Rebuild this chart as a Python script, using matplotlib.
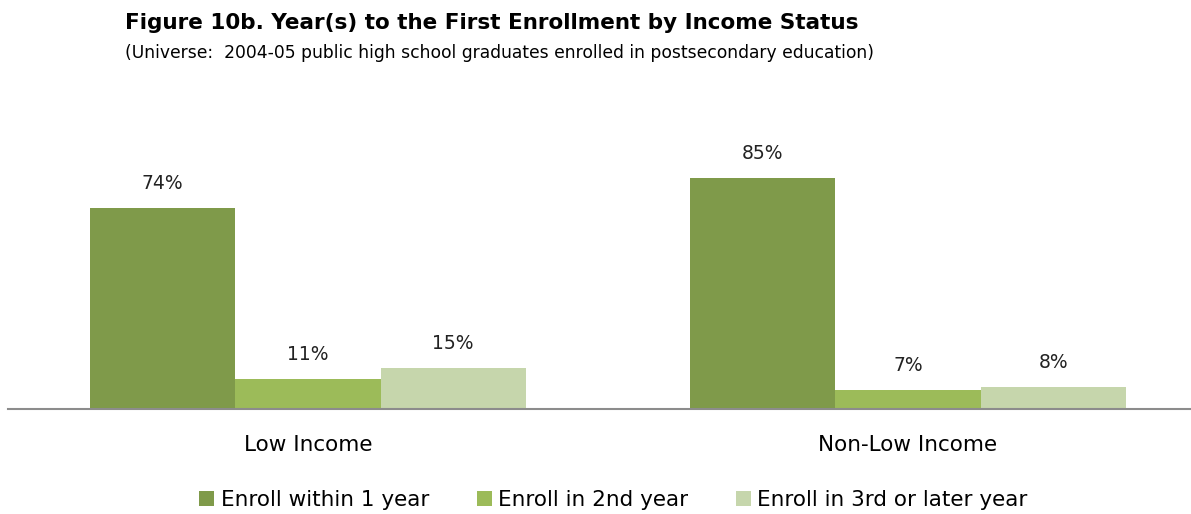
import matplotlib.pyplot as plt
import numpy as np

groups = ['Low Income', 'Non-Low Income']
series = ['Enroll within 1 year', 'Enroll in 2nd year', 'Enroll in 3rd or later year']
within_1yr = [74, 85]
second_yr = [11, 7]
third_plus = [15, 8]
colors = ['#7F9A4A', '#9CBB59', '#C6D6AC']

plt.rcParams['font.family'] = ['DejaVu Sans']

fig = plt.figure(figsize=(11.91, 5.14), dpi=100)
ax = fig.add_axes([8 / 1191, 105 / 514, 1200 / 1191, 272 / 514])

x = np.arange(len(groups))
w = 0.242
for i, (vals, lab) in enumerate(zip([within_1yr, second_yr, third_plus], series)):
    pos = x + (i - 1) * w
    ax.bar(pos, vals, width=w, color=colors[i], label=lab)
    for p, v in zip(pos, vals):
        ax.text(p, v + 5.5, f'{v}%', ha='center', va='bottom', fontsize=13.5, color='#222222')

ax.set_xlim(-0.5, 1.5)
ax.set_ylim(0, 100)
for s in ['top', 'right', 'left']:
    ax.spines[s].set_visible(False)
ax.spines['bottom'].set_color('#8c8c8c')
ax.spines['bottom'].set_linewidth(1.5)
ax.set_yticks([])
ax.set_xticks(x)
ax.set_xticklabels(groups, fontsize=15.5)
ax.tick_params(axis='x', length=0, pad=19)

fig.text(125 / 1191, 1 - 23 / 514, 'Figure 10b. Year(s) to the First Enrollment by Income Status',
         fontsize=15.5, fontweight='bold', va='center', ha='left')
fig.text(125 / 1191, 1 - 53 / 514,
         '(Universe:  2004-05 public high school graduates enrolled in postsecondary education)',
         fontsize=12.3, va='center', ha='left')

fig.legend(loc='center', bbox_to_anchor=(0.515, 1 - 500 / 514), ncol=3, frameon=False,
           fontsize=15.5, handlelength=0.7, handleheight=0.7, handletextpad=0.3, columnspacing=2.2)

fig.savefig('out.png', dpi=100)
